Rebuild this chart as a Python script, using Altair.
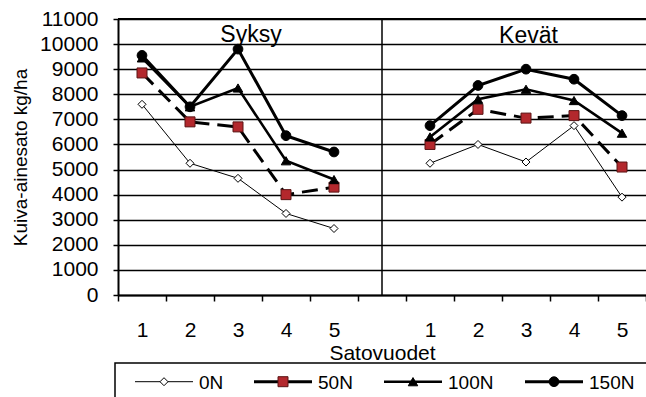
import altair as alt
import pandas as pd

# ---------------- data ----------------
categories = ["S1", "S2", "S3", "S4", "S5", "_", "K1", "K2", "K3", "K4", "K5"]
syksy_cats = ["S1", "S2", "S3", "S4", "S5"]
kevat_cats = ["K1", "K2", "K3", "K4", "K5"]
series_names = ["0N", "50N", "100N", "150N"]

syksy_0N = [7600, 5250, 4650, 3250, 2650]
syksy_50N = [8850, 6900, 6700, 4000, 4300]
syksy_100N = [9450, 7500, 8250, 5350, 4600]
syksy_150N = [9550, 7500, 9800, 6350, 5700]

kevat_0N = [5250, 6000, 5300, 6750, 3900]
kevat_50N = [6000, 7400, 7050, 7150, 5100]
kevat_100N = [6300, 7800, 8200, 7750, 6450]
kevat_150N = [6750, 8350, 9000, 8600, 7150]

group_titles = ["Syksy", "Kevät"]
y_ticks = list(range(0, 11001, 1000))

syksy = {"0N": syksy_0N, "50N": syksy_50N, "100N": syksy_100N, "150N": syksy_150N}
kevat = {"0N": kevat_0N, "50N": kevat_50N, "100N": kevat_100N, "150N": kevat_150N}

rows = []
for s in series_names:
    for c, v in zip(syksy_cats, syksy[s]):
        rows.append({"cat": c, "value": v, "series": s, "grp": "Syksy-" + s})
    for c, v in zip(kevat_cats, kevat[s]):
        rows.append({"cat": c, "value": v, "series": s, "grp": "Kevät-" + s})
df = pd.DataFrame(rows)

FONT = "Liberation Sans"
RED = "#B3282D"

styles = {
    "0N": dict(width=1.0, dash=None, shape="diamond", fill="white", stroke="black", size=64, sw=1.0),
    "50N": dict(width=3.0, dash=[16, 8], shape="square", fill=RED, stroke="#5a1414", size=100, sw=1.0),
    "100N": dict(width=2.6, dash=None, shape="triangle-up", fill="black", stroke="black", size=90, sw=1.0),
    "150N": dict(width=3.0, dash=None, shape="circle", fill="black", stroke="black", size=95, sw=1.0),
}

xscale = alt.Scale(type="band", domain=categories, paddingInner=0, paddingOuter=0)
xaxis = alt.Axis(
    title="Satovuodet",
    labelExpr="substring(datum.label, 1)",
    labelAngle=0,
    tickBand="extent",
    grid=False,
    domainColor="black", domainWidth=2,
    tickColor="black", tickWidth=1.5, tickSize=6,
    labelFont=FONT, labelFontSize=21, labelColor="black", labelPadding=18.5,
    titleFont=FONT, titleFontSize=21, titleFontWeight="normal", titleColor="black",
    titleBaseline="alphabetic", titleY=64,
)
yscale = alt.Scale(domain=[0, 11000], nice=False, zero=True)
yaxis = alt.Axis(
    title="Kuiva-ainesato kg/ha",
    values=y_ticks,
    format="d",
    grid=True, gridColor="black", gridWidth=1.3,
    domainColor="black", domainWidth=2,
    tickColor="black", tickWidth=1.5, tickSize=5,
    labelFont=FONT, labelFontSize=21, labelColor="black", labelPadding=15,
    titleFont=FONT, titleFontSize=19, titleFontWeight="normal", titleColor="black",
    titleAngle=270, titleAlign="center", titleBaseline="alphabetic",
    titleX=-92, titleY=138,
)


def X():
    return alt.X("cat:N", scale=xscale, sort=categories, bandPosition=0.5, axis=xaxis)


def Y():
    return alt.Y("value:Q", scale=yscale, axis=yaxis)


layers = []

# top border
layers.append(
    alt.Chart(pd.DataFrame({"value": [11000]}))
    .mark_rule(color="black", strokeWidth=2)
    .encode(y=Y())
)
# divider between seasons
layers.append(
    alt.Chart(pd.DataFrame({"cat": ["_"]}))
    .mark_rule(color="black", strokeWidth=1.5)
    .encode(x=X())
)

for s in series_names:
    st = styles[s]
    sub = df[df.series == s]
    line_kw = dict(color="black", strokeWidth=st["width"])
    if st["dash"]:
        line_kw["strokeDash"] = st["dash"]
    layers.append(
        alt.Chart(sub).mark_line(**line_kw).encode(x=X(), y=Y(), detail="grp:N")
    )
    layers.append(
        alt.Chart(sub)
        .mark_point(shape=st["shape"], filled=True, fill=st["fill"], stroke=st["stroke"],
                    strokeWidth=st["sw"], size=st["size"], opacity=1)
        .encode(x=X(), y=Y())
    )

# group titles
title_df = pd.DataFrame({"cat": ["S3", "K3"], "value": [10000, 10000], "label": group_titles})
layers.append(
    alt.Chart(title_df.iloc[[0]])
    .mark_text(font=FONT, fontSize=23, baseline="alphabetic", dx=13, dy=-2.5, color="black")
    .encode(x=X(), y=Y(), text="label:N")
)
layers.append(
    alt.Chart(title_df.iloc[[1]])
    .mark_text(font=FONT, fontSize=23, baseline="alphabetic", dx=2.5, dy=-1, color="black")
    .encode(x=X(), y=Y(), text="label:N")
)

# ---------------- legend (drawn below the plot) ----------------
one = pd.DataFrame({"k": [0]})
LEG_Y = 362.7
layers.append(
    alt.Chart(one)
    .mark_rect(fill="white", stroke="black", strokeWidth=1.5)
    .encode(x=alt.value(-3), x2=alt.value(600), y=alt.value(344), y2=alt.value(420))
)
SYM_W = 58
x0 = 17.0
for s in series_names:
    st = styles[s]
    layers.append(
        alt.Chart(one)
        .mark_rule(color="black", strokeWidth=st["width"])
        .encode(x=alt.value(x0), x2=alt.value(x0 + SYM_W), y=alt.value(LEG_Y))
    )
    layers.append(
        alt.Chart(one)
        .mark_point(shape=st["shape"], filled=True, fill=st["fill"], stroke=st["stroke"],
                    strokeWidth=st["sw"], size=st["size"], opacity=1)
        .encode(x=alt.value(x0 + SYM_W / 2), y=alt.value(LEG_Y))
    )
    layers.append(
        alt.Chart(one)
        .mark_text(font=FONT, fontSize=19, align="left", baseline="middle", color="black")
        .encode(x=alt.value(x0 + SYM_W + 6), y=alt.value(LEG_Y + 1), text=alt.value(s))
    )
    x0 += SYM_W + 6 + len(s) * 11 + 33

chart = (
    alt.layer(*layers)
    .properties(
        width=528,
        height=276,
        autosize=alt.AutoSizeParams(type="none"),
        padding={"left": 118, "top": 19, "right": 0, "bottom": 102},
        background="white",
    )
    .configure_view(stroke=None)
)

chart.save("out.html", embed_options={"renderer": "svg", "actions": False})
